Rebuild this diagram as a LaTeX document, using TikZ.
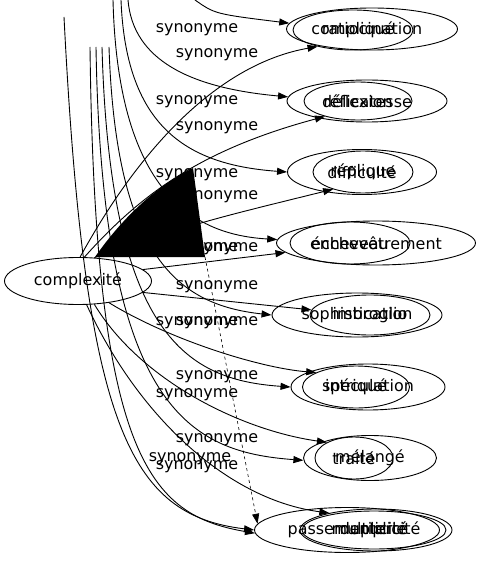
\documentclass[tikz,border=0pt]{standalone}
\usepackage{fontspec}
\setmainfont{DejaVu Sans}
\usetikzlibrary{shapes.geometric,arrows.meta}
\begin{document}
\begin{tikzpicture}[x=1bp,y=-1bp,
  every node/.style={font=\fontsize{16}{19}\selectfont},
  nd/.style={draw, ellipse, inner sep=0pt, line width=0.9bp},
  lbl/.style={inner sep=0pt},
  edge/.style={line width=0.9bp, -{Triangle[length=10bp,width=7bp]}},
  dedge/.style={line width=0.6bp, dashed, -{Triangle[length=10bp,width=7bp]}},
]
\useasboundingbox (0,0) rectangle (482,563);
% main node
\node[nd, minimum width=147bp, minimum height=47bp] (cx) at (78,281) {complexité};
% right-hand nodes (overlapping pairs)
\node[nd, minimum width=171bp, minimum height=42bp] (R1o) at (372,29) {ratiocination};
\node[nd, minimum width=120bp, minimum height=40bp] (R1i) at (353,30) {compliqué};
\node[nd, minimum width=160bp, minimum height=42bp] (R2o) at (367,101) {délicatesse};
\node[nd, minimum width=108bp, minimum height=38bp] (R2i) at (358,101) {réflexion};
\node[nd, minimum width=149bp, minimum height=45bp] (R3o) at (362,172) {difficulté};
\node[nd, minimum width=100bp, minimum height=42bp] (R3i) at (363,172) {réplique};
\node[nd, minimum width=199bp, minimum height=44bp] (R4o) at (376,243) {enchevêtrement};
\node[nd, minimum width=120bp, minimum height=42bp] (R4i) at (350,243) {écheveau};
\node[nd, minimum width=170bp, minimum height=44bp] (R5o) at (357,315) {sophistication};
\node[nd, minimum width=120bp, minimum height=40bp] (R5i) at (370,315) {imbroglio};
\node[nd, minimum width=154bp, minimum height=46bp] (R6o) at (368,387) {spéculation};
\node[nd, minimum width=107bp, minimum height=42bp] (R6i) at (356,387) {intriqué};
\node[nd, minimum width=133bp, minimum height=45bp] (R7o) at (370,458) {mélangé};
\node[nd, minimum width=78bp, minimum height=42bp] (R7i) at (354,458) {traité};
\node[nd, minimum width=185bp, minimum height=45bp] (R8a) at (347,530) {passementerie};
\node[nd, minimum width=152bp, minimum height=42bp] (R8b) at (376,530) {multiplicité};
\node[nd, minimum width=144bp, minimum height=38bp] (R8c) at (374,530) {duplicité};
% free ends of edges coming from outside the picture
\coordinate (tA) at (195,0);
\coordinate (tB) at (128,0);
\coordinate (tC) at (121,0);
\coordinate (tD) at (113,0);
\coordinate (p4) at (109,47);
\coordinate (p3) at (102,47);
\coordinate (p2) at (96,47);
\coordinate (p1) at (90,47);
\coordinate (p0) at (64,17);
\coordinate (tri) at (205,257);
% edges from outside
\draw[edge] (tA) .. controls (215,14) .. (R1o.176);
\draw[edge] (tB) .. controls (133,60) and (190,88) .. (R2o.177);
\draw[edge] (tC) .. controls (126,130) and (190,165) .. (R3o.180);
\draw[edge] (tD) .. controls (118,200) and (200,235) .. (R4o.178);
\draw[edge] (p4) .. controls (116,260) and (180,305) .. (R5o.180);
\draw[edge] (p3) .. controls (110,340) and (190,380) .. (R6o.180);
\draw[edge] (p2) .. controls (102,410) and (190,452) .. (R7o.182);
\draw[edge] (p1) .. controls (95,460) and (150,515) .. (R8a.182);
\draw[edge] (p0) .. controls (85,430) and (130,515) .. (R8a.180);
% edges from complexité
\draw[edge] (cx.85) .. controls (150,130) and (230,62) .. (R1i.205);
\draw[edge] (cx.75) .. controls (140,195) and (200,150) .. (R2i.205);
\draw[edge] (cx.55) .. controls (200,222) .. (R3i.210);
\draw[edge] (cx.10) -- (R4o.186);
\draw[edge] (cx.-10) -- (R5i.175);
\draw[edge] (cx.-35) .. controls (170,340) and (260,368) .. (R6i.160);
\draw[edge] (cx.-55) .. controls (140,380) and (240,430) .. (R7i.150);
\draw[edge] (cx.-70) .. controls (140,420) and (230,500) .. (R8b.160);
% labels
\node[lbl] (l1) at (197,30) {synonyme};
\node[lbl] (l2) at (217,55) {synonyme};
\node[lbl] (l3) at (197,102) {synonyme};
\node[lbl] (l4) at (217,128) {synonyme};
\node[lbl] (l5) at (197,175) {synonyme};
\node[lbl] (l6) at (217,197) {synonyme};
\node[lbl] (l7) at (197,249) {synonyme};
\node[lbl] (l8) at (217,249) {synonyme};
\node[lbl] (l9) at (217,287) {synonyme};
\node[lbl] (l10) at (197,323) {synonyme};
\node[lbl] (l11) at (217,323) {synonyme};
\node[lbl] (l12) at (217,377) {synonyme};
\node[lbl] (l13) at (197,395) {synonyme};
\node[lbl] (l14) at (217,440) {synonyme};
\node[lbl] (l15) at (190,459) {synonyme};
\node[lbl] (l16) at (197,467) {synonyme};
% black artefact triangle and dashed edge
\fill (95,257) .. controls (125,214) and (160,184) .. (193,168) -- (tri) -- cycle;
\draw[dedge] (tri) -- (R8a.176);
\end{tikzpicture}
\end{document}
